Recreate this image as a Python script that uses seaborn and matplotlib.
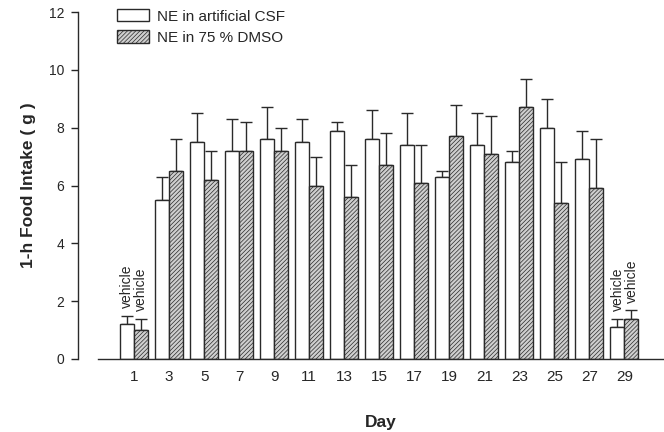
import numpy as np
import pandas as pd
import matplotlib
matplotlib.use("Agg")
import matplotlib.pyplot as plt
import seaborn as sns

# =====================
# data
# =====================
DAYS = [1, 3, 5, 7, 9, 11, 13, 15, 17, 19, 21, 23, 25, 27, 29]
SERIES = ["NE in artificial CSF", "NE in 75 % DMSO"]

csf_mean = [1.2, 5.5, 7.5, 7.2, 7.6, 7.5, 7.9, 7.6, 7.4, 6.3, 7.4, 6.8, 8.0, 6.9, 1.1]
csf_err = [0.3, 0.8, 1.0, 1.1, 1.1, 0.8, 0.3, 1.0, 1.1, 0.2, 1.1, 0.4, 1.0, 1.0, 0.3]
dmso_mean = [1.0, 6.5, 6.2, 7.2, 7.2, 6.0, 5.6, 6.7, 6.1, 7.7, 7.1, 8.7, 5.4, 5.9, 1.4]
dmso_err = [0.4, 1.1, 1.0, 1.0, 0.8, 1.0, 1.1, 1.1, 1.3, 1.1, 1.3, 1.0, 1.4, 1.7, 0.3]

Y_TICKS = [0, 2, 4, 6, 8, 10, 12]
VEHICLE_DAYS = [1, 29]

# =====================
# style
# =====================
sns.set_style("ticks")
plt.rcParams["font.family"] = ["Liberation Sans", "DejaVu Sans"]
plt.rcParams["hatch.color"] = "#707070"
plt.rcParams["hatch.linewidth"] = 0.5

EDGE = "#2a2a2a"

df = pd.DataFrame({
    "day": [str(d) for d in DAYS] * 2,
    "group": [SERIES[0]] * len(DAYS) + [SERIES[1]] * len(DAYS),
    "intake": csf_mean + dmso_mean,
})

fig, ax = plt.subplots(figsize=(6.64, 4.32), dpi=100)
fig.subplots_adjust(left=98 / 664, right=663 / 664, bottom=1 - 359 / 432, top=1 - 12 / 432)

sns.barplot(
    data=df, x="day", y="intake", hue="group",
    order=[str(d) for d in DAYS], hue_order=SERIES,
    palette=["white", "#cfcfcf"], errorbar=None, width=0.8,
    edgecolor=EDGE, linewidth=1.0, legend=False, ax=ax, zorder=2,
)

n = len(DAYS)
bars = ax.patches[:2 * n]
for p in bars[n:]:
    p.set_hatch("////////")

errs = csf_err + dmso_err
for p, e in zip(bars, errs):
    xc = p.get_x() + p.get_width() / 2
    h = p.get_height()
    ax.errorbar(xc, h, yerr=[[0], [e]], fmt="none", ecolor=EDGE,
                elinewidth=1.0, capsize=4, capthick=1.0, zorder=1)

# "vehicle" labels
for d in VEHICLE_DAYS:
    i = DAYS.index(d)
    for k, (m, e) in enumerate([(csf_mean[i], csf_err[i]), (dmso_mean[i], dmso_err[i])]):
        p = bars[k * n + i]
        xc = p.get_x() + p.get_width() / 2
        ax.text(xc, m + e + 0.25, "vehicle", rotation=90, ha="center", va="bottom",
                fontsize=10)

# axes
ax.set_ylim(0, 12)
ax.set_xlim(-1.03, 15.1)
ax.set_yticks(Y_TICKS)
ax.set_yticklabels([str(t) for t in Y_TICKS], fontsize=11)
ax.tick_params(axis="x", length=0, pad=8, labelsize=11)
ax.tick_params(axis="y", length=5, width=1, direction="out", pad=5)
ax.spines["left"].set_position(("outward", 14.4))
sns.despine(ax=ax, top=True, right=True)
for s in ["left", "bottom"]:
    ax.spines[s].set_color(EDGE)
    ax.spines[s].set_linewidth(1.0)

ax.set_xlabel("Day", fontsize=12.5, fontweight="bold", labelpad=22)
ax.set_ylabel("1-h Food Intake ( g )", fontsize=12.5, fontweight="bold", labelpad=9)

# legend
handles = [bars[0], bars[n]]
ax.legend(handles, SERIES, loc="upper left", bbox_to_anchor=(0.034, 1.008),
          frameon=False, fontsize=11, handlelength=2.1, handleheight=0.85,
          handletextpad=0.5, labelspacing=0.45, borderaxespad=0, borderpad=0)

plt.savefig("out.png", dpi=100)
